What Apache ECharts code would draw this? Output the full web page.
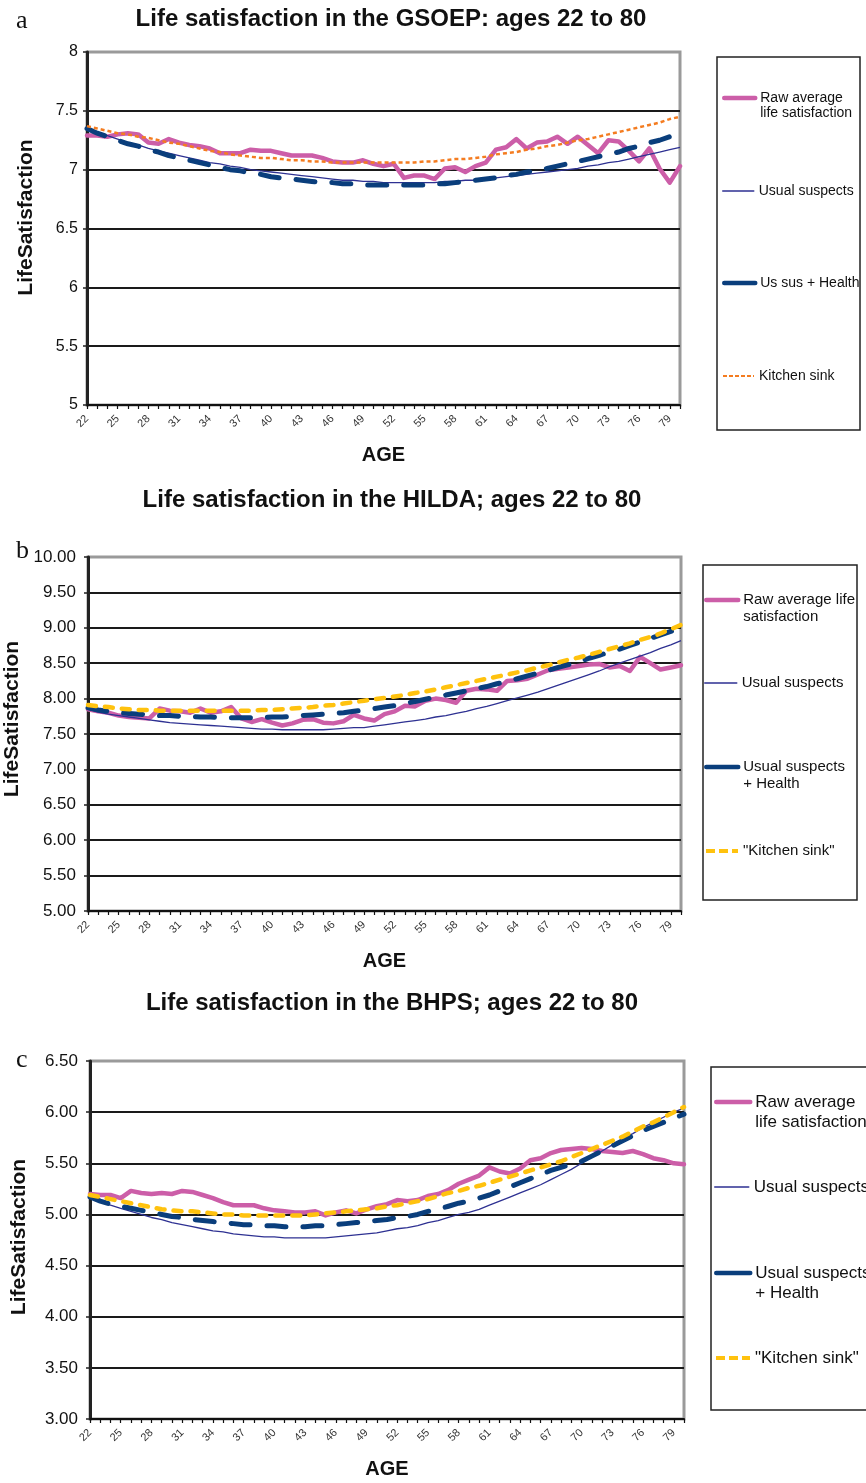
<!DOCTYPE html>
<html><head><meta charset="utf-8">
<script src="https://cdn.jsdelivr.net/npm/echarts@6/dist/echarts.min.js"></script>
<style>html,body{margin:0;padding:0;background:#fff}#c{width:866px;height:1483px}</style>
</head><body><div id="c"></div>
<script>
const AGES = ['22','23','24','25','26','27','28','29','30','31','32','33','34','35','36','37','38','39','40','41','42','43','44','45','46','47','48','49','50','51','52','53','54','55','56','57','58','59','60','61','62','63','64','65','66','67','68','69','70','71','72','73','74','75','76','77','78','79','80'];

// Panel a: GSOEP
const gsoepRaw = [7.29,7.29,7.28,7.30,7.31,7.30,7.23,7.22,7.26,7.23,7.21,7.20,7.18,7.14,7.14,7.14,7.17,7.16,7.16,7.14,7.12,7.12,7.12,7.10,7.07,7.06,7.06,7.08,7.05,7.03,7.05,6.93,6.95,6.95,6.92,7.01,7.02,6.98,7.03,7.06,7.17,7.19,7.26,7.18,7.23,7.24,7.28,7.22,7.28,7.21,7.14,7.25,7.24,7.16,7.07,7.18,7.01,6.89,7.03];
const gsoepUS = [7.35,7.32,7.29,7.26,7.23,7.21,7.18,7.16,7.14,7.12,7.10,7.08,7.06,7.05,7.03,7.02,7.00,6.99,6.98,6.97,6.96,6.95,6.94,6.93,6.92,6.91,6.91,6.90,6.90,6.89,6.89,6.89,6.89,6.89,6.89,6.90,6.90,6.91,6.91,6.92,6.93,6.94,6.95,6.96,6.97,6.98,6.99,7.00,7.01,7.03,7.04,7.06,7.07,7.09,7.11,7.13,7.15,7.17,7.19];
const gsoepUSH = [7.35,7.31,7.28,7.25,7.22,7.20,7.17,7.15,7.12,7.10,7.08,7.06,7.04,7.02,7.00,6.99,6.97,6.96,6.94,6.93,6.92,6.91,6.90,6.89,6.89,6.88,6.88,6.87,6.87,6.87,6.87,6.87,6.87,6.87,6.88,6.88,6.89,6.90,6.91,6.92,6.93,6.95,6.96,6.98,6.99,7.01,7.03,7.05,7.07,7.09,7.11,7.13,7.15,7.18,7.20,7.23,7.25,7.28,7.31];
const gsoepKS = [7.37,7.35,7.33,7.31,7.30,7.28,7.27,7.25,7.23,7.22,7.20,7.18,7.16,7.15,7.13,7.12,7.11,7.10,7.10,7.09,7.08,7.08,7.07,7.07,7.06,7.06,7.06,7.06,7.06,7.06,7.06,7.06,7.06,7.07,7.07,7.08,7.09,7.09,7.10,7.11,7.13,7.14,7.15,7.17,7.18,7.20,7.21,7.23,7.25,7.26,7.28,7.30,7.32,7.34,7.36,7.38,7.40,7.43,7.45];

// Panel b: HILDA
const hildaRaw = [7.85,7.82,7.80,7.76,7.74,7.73,7.72,7.86,7.83,7.82,7.80,7.86,7.80,7.82,7.88,7.72,7.67,7.71,7.66,7.62,7.65,7.70,7.71,7.66,7.65,7.68,7.77,7.72,7.69,7.78,7.82,7.90,7.89,7.97,8.00,7.98,7.94,8.11,8.14,8.13,8.11,8.25,8.26,8.28,8.34,8.40,8.42,8.44,8.46,8.48,8.49,8.44,8.46,8.39,8.59,8.50,8.41,8.44,8.47];
const hildaUS = [7.85,7.81,7.78,7.76,7.74,7.72,7.70,7.68,7.66,7.65,7.64,7.63,7.62,7.61,7.60,7.59,7.58,7.57,7.57,7.56,7.56,7.56,7.56,7.56,7.57,7.58,7.59,7.59,7.61,7.63,7.65,7.67,7.69,7.71,7.74,7.76,7.79,7.82,7.86,7.89,7.93,7.97,8.01,8.05,8.09,8.14,8.19,8.24,8.29,8.34,8.39,8.45,8.50,8.55,8.60,8.65,8.71,8.76,8.82];
const hildaUSH = [7.87,7.84,7.82,7.80,7.79,7.78,7.77,7.76,7.76,7.75,7.75,7.74,7.74,7.73,7.73,7.73,7.73,7.73,7.74,7.74,7.75,7.76,7.77,7.78,7.79,7.80,7.82,7.84,7.86,7.88,7.90,7.93,7.96,7.99,8.02,8.05,8.08,8.11,8.14,8.17,8.21,8.24,8.28,8.32,8.36,8.40,8.44,8.48,8.52,8.57,8.61,8.66,8.70,8.75,8.80,8.85,8.90,8.95,9.00];
const hildaKS = [7.91,7.89,7.88,7.86,7.85,7.84,7.84,7.83,7.83,7.83,7.83,7.83,7.83,7.83,7.83,7.83,7.83,7.84,7.84,7.85,7.86,7.87,7.88,7.90,7.91,7.93,7.95,7.97,7.99,8.01,8.03,8.05,8.08,8.10,8.13,8.16,8.19,8.22,8.25,8.28,8.31,8.34,8.37,8.40,8.44,8.47,8.51,8.55,8.58,8.62,8.66,8.70,8.74,8.78,8.83,8.87,8.92,8.98,9.04];

// Panel c: BHPS
const bhpsRaw = [5.20,5.19,5.19,5.16,5.23,5.21,5.20,5.21,5.20,5.23,5.22,5.19,5.16,5.12,5.09,5.09,5.09,5.06,5.04,5.03,5.02,5.02,5.03,4.99,5.02,5.04,5.01,5.05,5.08,5.10,5.14,5.13,5.14,5.18,5.20,5.24,5.30,5.34,5.38,5.46,5.42,5.40,5.45,5.53,5.55,5.60,5.63,5.64,5.65,5.64,5.62,5.61,5.60,5.62,5.59,5.55,5.53,5.50,5.49];
const bhpsUS = [5.17,5.13,5.09,5.06,5.03,5.00,4.97,4.95,4.92,4.90,4.88,4.86,4.84,4.83,4.81,4.80,4.79,4.78,4.78,4.77,4.77,4.77,4.77,4.77,4.78,4.79,4.80,4.81,4.82,4.84,4.86,4.87,4.89,4.92,4.94,4.97,5.00,5.02,5.05,5.09,5.13,5.17,5.21,5.25,5.29,5.34,5.39,5.44,5.50,5.56,5.62,5.68,5.74,5.79,5.85,5.90,5.95,6.00,6.04];
const bhpsUSH = [5.17,5.13,5.10,5.08,5.06,5.04,5.02,5.00,4.98,4.97,4.95,4.94,4.93,4.92,4.91,4.90,4.90,4.89,4.89,4.88,4.88,4.88,4.89,4.89,4.90,4.91,4.92,4.93,4.94,4.95,4.97,4.98,5.00,5.03,5.05,5.08,5.11,5.13,5.16,5.19,5.23,5.27,5.31,5.35,5.39,5.43,5.46,5.49,5.52,5.57,5.62,5.67,5.72,5.77,5.82,5.86,5.90,5.94,5.98];
const bhpsKS = [5.19,5.17,5.15,5.13,5.11,5.09,5.07,5.05,5.04,5.03,5.03,5.02,5.01,5.00,5.00,4.99,4.99,4.99,4.99,4.99,4.99,4.99,5.00,5.01,5.02,5.03,5.04,5.05,5.06,5.08,5.09,5.11,5.13,5.15,5.18,5.21,5.23,5.26,5.28,5.31,5.34,5.37,5.40,5.43,5.46,5.49,5.52,5.56,5.60,5.64,5.68,5.72,5.76,5.81,5.86,5.90,5.95,6.00,6.05];

const TITLES = ['Life satisfaction in the GSOEP: ages 22 to 80','Life satisfaction in the HILDA; ages 22 to 80','Life satisfaction in the BHPS; ages 22 to 80'];
const NAMES_A = ['Raw average life satisfaction','Usual suspects','Us sus + Health','Kitchen sink'];
const NAMES_BC = ['Raw average life satisfaction','Usual suspects','Usual suspects + Health','"Kitchen sink"'];

const FONT = '"Liberation Sans", Arial, sans-serif';
const PINK = '#CC5EA8', INDIGO = '#2E3192', NAVY = '#0A3E7C', ORANGE = '#F47C20', GOLD = '#FFC20E';

const panels = [
  {grid:{left:87, top:52, width:593, height:353}, min:5, max:8, dec:0, names:NAMES_A,
   data:[gsoepRaw,gsoepUS,gsoepUSH,gsoepKS], ks:{color:ORANGE,width:2.5,type:[4,3],cap:'butt'},
   yfs:16, yGap:50, ym:9, yShift:22},
  {grid:{left:88, top:557, width:593, height:354}, min:5, max:10, dec:2, names:NAMES_BC,
   data:[hildaRaw,hildaUS,hildaUSH,hildaKS], ks:{color:GOLD,width:4.5,type:[8,9],cap:'round'},
   yfs:17, yGap:55, ym:12, yShift:30},
  {grid:{left:90, top:1061, width:594, height:358}, min:3, max:6.5, dec:2, names:NAMES_BC,
   data:[bhpsRaw,bhpsUS,bhpsUSH,bhpsKS], ks:{color:GOLD,width:4.5,type:[8,9],cap:'round'},
   yfs:17, yGap:60, ym:12, yShift:6}
];

const grid = [], xAxis = [], yAxis = [], series = [];
panels.forEach((p, i) => {
  grid.push(Object.assign({show:true, borderColor:'#9a9a9a', borderWidth:3, backgroundColor:'#fff',
    containLabel:false, outerBoundsMode:'none'}, p.grid));
  xAxis.push({
    type:'category', gridIndex:i, data:AGES, boundaryGap:false,
    name:'AGE', nameLocation:'middle', nameGap:40,
    nameTextStyle:{fontFamily:FONT, fontWeight:'bold', fontSize:20, color:'#111'},
    axisLine:{lineStyle:{color:'#111', width:2}},
    axisTick:{interval:0, length:4, inside:false, lineStyle:{color:'#111', width:1.2}},
    axisLabel:{interval:2, rotate:45, fontSize:11, color:'#333', fontFamily:FONT, margin:12},
    splitLine:{show:false}
  });
  yAxis.push({
    type:'value', gridIndex:i, min:p.min, max:p.max, interval:0.5,
    name:'LifeSatisfaction', nameLocation:'middle', nameGap:p.yGap, nameRotate:90,
    nameTextStyle:{fontFamily:FONT, fontWeight:'bold', fontSize:21, color:'#111', padding:[0,0,0,p.yShift]},
    axisLine:{show:true, lineStyle:{color:'#222', width:3}},
    axisTick:{show:true, length:4, lineStyle:{color:'#222', width:1.5}},
    axisLabel:{fontSize:p.yfs, color:'#111', fontFamily:FONT, margin:p.ym,
      formatter: v => p.dec ? v.toFixed(p.dec) : String(v)},
    splitLine:{show:true, showMaxLine:false, lineStyle:{color:'#1a1a1a', width:2}}
  });
  const styles = [
    {color:PINK, width:4.5, type:'solid', cap:'round'},
    {color:INDIGO, width:1.3, type:'solid', cap:'butt'},
    {color:NAVY, width:5, type:[19,17], cap:'round'},
    p.ks
  ];
  p.data.forEach((d, k) => {
    const s = styles[k];
    series.push({
      type:'line', name:p.names[k], xAxisIndex:i, yAxisIndex:i, data:d,
      symbol:'none', showSymbol:false, smooth:false, z: 3 + (k===0?0:k),
      lineStyle:{color:s.color, width:s.width, type:s.type, cap:s.cap, join:'round'},
      itemStyle:{color:s.color}
    });
  });
});

// legends (one per entry, so each sits where it does in the original).
// Two-line labels get an empty first line so the swatch lines up with the first text line.
function leg(name, text, left, center, fs, lh, lines, iw, lw, ltype) {
  const label = lines === 2 ? '\n' + text : text;
  return {
    data:[name], left:left, top: lines === 2 ? center - 1.5*lh : center - lh/2, padding:0,
    itemWidth:iw, itemHeight:10, itemGap:0, formatter:label, orient:'horizontal',
    itemStyle:{opacity:0},
    lineStyle:{width:lw, type:ltype, cap: ltype === 'solid' ? 'round' : 'butt'},
    textStyle:{fontSize:fs, fontFamily:FONT, color:'#111', lineHeight:lh}
  };
}
const legend = [
  leg(NAMES_A[0], 'Raw average\nlife satisfaction', 722, 98, 14, 15, 2, 31, 4.5, 'solid'),
  leg(NAMES_A[1], 'Usual suspects', 722, 191, 14, 15, 1, 31, 1.5, 'solid'),
  leg(NAMES_A[2], 'Us sus + Health', 722, 283, 14, 15, 1, 31, 4.5, 'solid'),
  leg(NAMES_A[3], 'Kitchen sink', 722, 376, 14, 15, 1, 31, 2, [4,2]),
  leg(NAMES_BC[0], 'Raw average life\nsatisfaction', 704, 600, 15, 17, 2, 32, 4.5, 'solid'),
  leg(NAMES_BC[1], 'Usual suspects', 704, 683, 15, 17, 1, 32, 1.5, 'solid'),
  leg(NAMES_BC[2], 'Usual suspects\n+ Health', 704, 767, 15, 17, 2, 32, 4.5, 'solid'),
  leg(NAMES_BC[3], '"Kitchen sink"', 704, 851, 15, 17, 1, 32, 4, [9,4]),
  leg(NAMES_BC[0], 'Raw average\nlife satisfaction', 714, 1102, 17, 20, 2, 34, 4.5, 'solid'),
  leg(NAMES_BC[1], 'Usual suspects', 714, 1187, 17, 20, 1, 34, 1.5, 'solid'),
  leg(NAMES_BC[2], 'Usual suspects\n+ Health', 714, 1273, 17, 20, 2, 34, 4.5, 'solid'),
  leg(NAMES_BC[3], '"Kitchen sink"', 714, 1358, 17, 20, 1, 34, 4, [9,4])
];

const graphic = [
  {type:'text', x:391, y:19, style:{text:TITLES[0], font:'bold 24px ' + FONT, fill:'#111', align:'center', verticalAlign:'middle'}},
  {type:'text', x:392, y:500, style:{text:TITLES[1], font:'bold 24px ' + FONT, fill:'#111', align:'center', verticalAlign:'middle'}},
  {type:'text', x:392, y:1003, style:{text:TITLES[2], font:'bold 24px ' + FONT, fill:'#111', align:'center', verticalAlign:'middle'}},
  {type:'text', x:16, y:21, style:{text:'a', font:'26px "Liberation Serif", serif', fill:'#111', align:'left', verticalAlign:'middle'}},
  {type:'text', x:16, y:551, style:{text:'b', font:'26px "Liberation Serif", serif', fill:'#111', align:'left', verticalAlign:'middle'}},
  {type:'text', x:16, y:1060, style:{text:'c', font:'26px "Liberation Serif", serif', fill:'#111', align:'left', verticalAlign:'middle'}},
  {type:'rect', shape:{x:717, y:57, width:143, height:373}, style:{fill:'none', stroke:'#222', lineWidth:1.5}, z:-1},
  {type:'rect', shape:{x:703, y:565, width:154, height:335}, style:{fill:'none', stroke:'#222', lineWidth:1.5}, z:-1},
  {type:'rect', shape:{x:711, y:1067, width:165, height:343}, style:{fill:'none', stroke:'#222', lineWidth:1.5}, z:-1}
];

const chart = echarts.init(document.getElementById('c'), null, {renderer:'canvas'});
chart.setOption({animation:false, backgroundColor:'#fff', grid, xAxis, yAxis, series, legend, graphic});
</script></body></html>
